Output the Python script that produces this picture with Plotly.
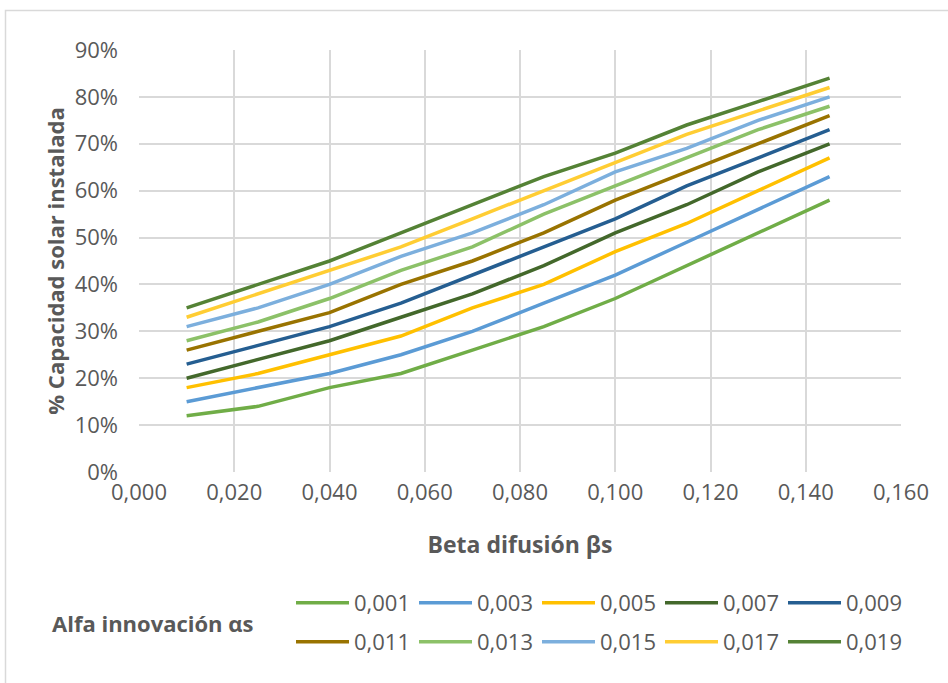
import plotly.graph_objects as go

beta = [0.010, 0.025, 0.040, 0.055, 0.070, 0.085, 0.100, 0.115, 0.130, 0.145]

alpha_labels = ["0,001", "0,003", "0,005", "0,007", "0,009",
                "0,011", "0,013", "0,015", "0,017", "0,019"]

s_0001 = [12, 14, 18, 21, 26, 31, 37, 44, 51, 58]
s_0003 = [15, 18, 21, 25, 30, 36, 42, 49, 56, 63]
s_0005 = [18, 21, 25, 29, 35, 40, 47, 53, 60, 67]
s_0007 = [20, 24, 28, 33, 38, 44, 51, 57, 64, 70]
s_0009 = [23, 27, 31, 36, 42, 48, 54, 61, 67, 73]
s_0011 = [26, 30, 34, 40, 45, 51, 58, 64, 70, 76]
s_0013 = [28, 32, 37, 43, 48, 55, 61, 67, 73, 78]
s_0015 = [31, 35, 40, 46, 51, 57, 64, 69, 75, 80]
s_0017 = [33, 38, 43, 48, 54, 60, 66, 72, 77, 82]
s_0019 = [35, 40, 45, 51, 57, 63, 68, 74, 79, 84]

series = [s_0001, s_0003, s_0005, s_0007, s_0009,
          s_0011, s_0013, s_0015, s_0017, s_0019]

colors = ["#70AD47", "#5B9BD5", "#FFC000", "#43682B", "#255E91",
          "#997300", "#8CC168", "#7CAFDD", "#FFCD33", "#548235"]

FONT = "Open Sans"
GRAY = "#595959"
GRID = "#D9D9D9"

fig = go.Figure()
for i, (lab, vals, col) in enumerate(zip(alpha_labels, series, colors)):
    fig.add_trace(go.Scatter(
        x=beta, y=vals, name=lab, mode="lines",
        line=dict(color=col, width=3.5),
        legend="legend" if i < 5 else "legend2",
        hoverinfo="skip",
    ))

W, H = 948, 683
# target plot area in screenshot pixels: x 139..901, y 50..472
L, R, T, B = 139, 948 - 901, 50, 683 - 472
pw, ph = W - L - R, H - T - B


def px2x(px):
    return (px - L) / pw


def py2y(py):
    return (H - B - py) / ph


legend_common = dict(
    orientation="h",
    xanchor="left", yanchor="middle",
    font=dict(family=FONT, size=22, color=GRAY),
    bgcolor="rgba(0,0,0,0)",
    itemwidth=53,
    entrywidth=55,
    traceorder="normal",
    itemclick=False, itemdoubleclick=False,
)

fig.update_layout(
    width=W, height=H,
    margin=dict(l=L, r=R, t=T, b=B, pad=0, autoexpand=False),
    paper_bgcolor="white", plot_bgcolor="white",
    separators=",.",
    font=dict(family=FONT, size=22, color=GRAY),
    showlegend=True,
    legend=dict(x=px2x(291), y=py2y(603), **legend_common),
    legend2=dict(x=px2x(291), y=py2y(642), **legend_common),
    xaxis=dict(
        range=[0, 0.16], dtick=0.02, tick0=0, tickformat=".3f",
        showgrid=True, gridcolor=GRID, gridwidth=2,
        zeroline=False, showline=False,
        ticks="", ticklabelstandoff=5,
        tickfont=dict(family=FONT, size=22, color=GRAY),
        title=dict(text="<b>Beta difusión βs</b>", standoff=31,
                   font=dict(family=FONT, size=23, color=GRAY)),
        fixedrange=True,
    ),
    yaxis=dict(
        range=[0, 90], dtick=10, tick0=0, ticksuffix="%",
        showgrid=True, gridcolor=GRID, gridwidth=2,
        zeroline=False, showline=False,
        ticks="", ticklabelstandoff=20,
        tickfont=dict(family=FONT, size=22, color=GRAY),
        title=dict(text="<b>% Capacidad solar instalada</b>", standoff=3,
                   font=dict(family=FONT, size=22, color=GRAY)),
        fixedrange=True,
    ),
    annotations=[dict(
        text="<b>Alfa innovación αs</b>", xref="paper", yref="paper",
        x=px2x(153), y=py2y(623), xanchor="center", yanchor="middle",
        showarrow=False, font=dict(family=FONT, size=22, color=GRAY),
    )],
    shapes=[dict(
        type="rect", xref="paper", yref="paper",
        x0=px2x(5.5), x1=px2x(1000), y0=py2y(760), y1=py2y(10.5),
        line=dict(color=GRID, width=1.5), layer="below",
    )],
)

# remove the browser's default 8px page margin so the figure fills the window
fig.write_html("out.html",
               config={"displayModeBar": False, "staticPlot": True},
               post_script="document.body.style.margin='0';")
